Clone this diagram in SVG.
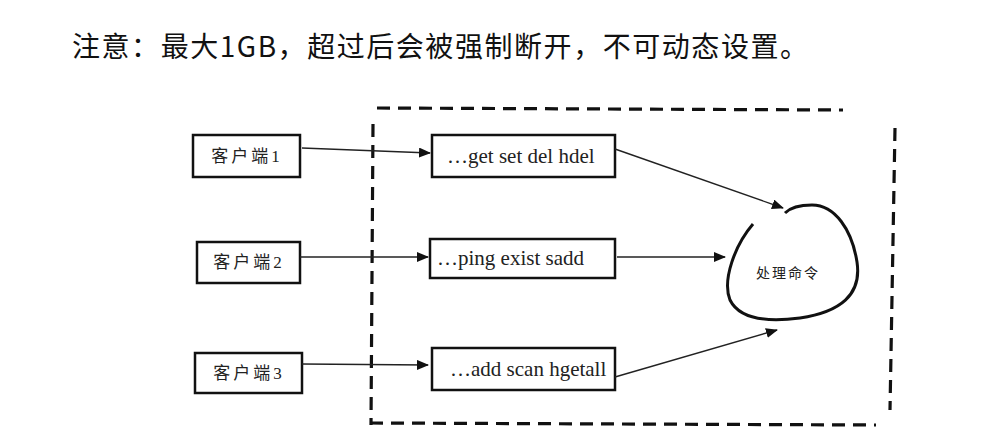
<svg xmlns="http://www.w3.org/2000/svg" width="999" height="433" viewBox="0 0 999 433">
<defs>
<marker id="ah" markerWidth="12" markerHeight="10" refX="11" refY="5" orient="auto" markerUnits="userSpaceOnUse">
<path d="M0,0 L12,5 L0,10 Z" fill="#111"/>
</marker>
<style>
.box{fill:#fff;stroke:#111;stroke-width:2.5}
.lbl{font-family:"Liberation Serif","Noto Sans CJK SC",serif;font-size:17px;fill:#222}
.cmd{font-family:"Liberation Serif","Noto Sans CJK SC",serif;font-size:21px;fill:#222}
.conn{stroke:#222;stroke-width:1.4;fill:none;marker-end:url(#ah)}
.dash{stroke:#111;stroke-width:3.2;fill:none;stroke-dasharray:13 8}
</style>
</defs>
<rect width="999" height="433" fill="#fff"/>
<text x="72" y="57" font-family="'Noto Sans CJK SC','Microsoft YaHei',sans-serif" font-size="28" fill="#111" textLength="736" lengthAdjust="spacing">注意：最大1GB，超过后会被强制断开，不可动态设置。</text>
<g id="boundary">
<path class="dash" d="M377,108 L843,110"/>
<path class="dash" d="M895,128 L890,410"/>
<path class="dash" d="M370,423 L876,425"/>
<path class="dash" d="M373,124 L371,425"/>
</g>
<g id="client1"><rect class="box" x="193" y="135" width="107" height="42"/><text class="lbl" x="247" y="162" text-anchor="middle" letter-spacing="3">客户端1</text></g>
<g id="client2"><rect class="box" x="197" y="242" width="103" height="41"/><text class="lbl" x="249" y="268" text-anchor="middle" letter-spacing="3">客户端2</text></g>
<g id="client3"><rect class="box" x="195" y="353" width="107" height="40"/><text class="lbl" x="249" y="379" text-anchor="middle" letter-spacing="3">客户端3</text></g>
<g id="cmd1"><rect class="box" x="432" y="135" width="183" height="42"/><text class="cmd" x="447" y="163">…get set del hdel</text></g>
<g id="cmd2"><rect class="box" x="430" y="239" width="185" height="39"/><text class="cmd" x="437" y="265">…ping exist sadd</text></g>
<g id="cmd3"><rect class="box" x="432" y="348" width="183" height="42"/><text class="cmd" x="450" y="376">…add scan hgetall</text></g>
<g id="process">
<path d="M753,224 C735,245 722,280 730,300 C740,320 770,322 800,318 C840,312 862,295 857,262 C852,230 835,205 812,205 C800,205 790,208 785,213" fill="none" stroke="#111" stroke-width="3"/>
<text x="788" y="278" text-anchor="middle" font-family="'Liberation Serif','Noto Sans CJK SC',serif" font-size="14" fill="#222" letter-spacing="2">处理命令</text>
</g>
<g id="connectors">
<path class="conn" d="M302,148 L430,153"/>
<path class="conn" d="M300,257 L428,257"/>
<path class="conn" d="M302,364 L428,365"/>
<path class="conn" d="M615,149 L783,208"/>
<path class="conn" d="M617,257 L725,257"/>
<path class="conn" d="M615,377 L777,330"/>
</g>
</svg>
